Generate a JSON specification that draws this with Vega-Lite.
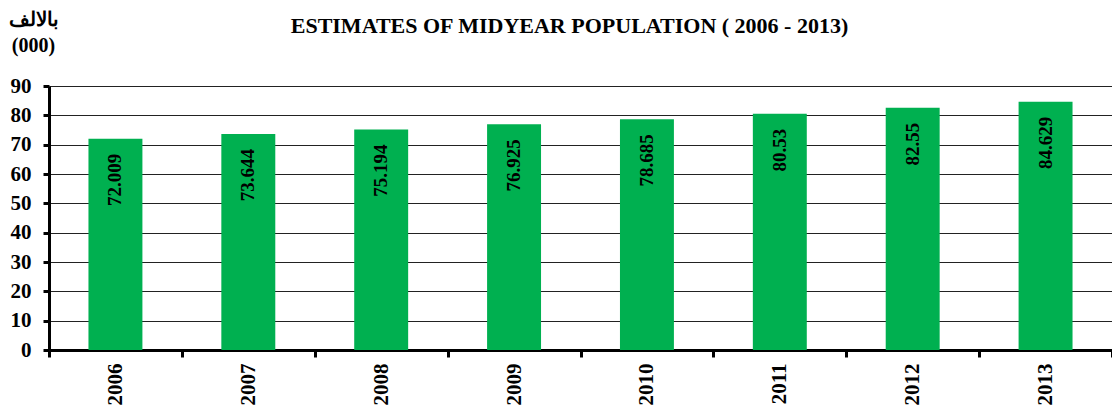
{
  "$schema": "https://vega.github.io/schema/vega-lite/v6.json",
  "width": 1063,
  "height": 264,
  "autosize": {"type": "none"},
  "padding": {"left": 49, "top": 86, "right": 0, "bottom": 64},
  "background": "white",
  "config": {
    "font": "Liberation Serif",
    "view": {"stroke": null}
  },
  "data": {
    "values": [
      {"year": "2006", "pop": 72.009},
      {"year": "2007", "pop": 73.644},
      {"year": "2008", "pop": 75.194},
      {"year": "2009", "pop": 76.925},
      {"year": "2010", "pop": 78.685},
      {"year": "2011", "pop": 80.53},
      {"year": "2012", "pop": 82.55},
      {"year": "2013", "pop": 84.629}
    ]
  },
  "encoding": {
    "x": {
      "field": "year",
      "type": "nominal",
      "sort": null,
      "scale": {"paddingInner": 0, "paddingOuter": 0},
      "axis": {
        "title": "ESTIMATES OF MIDYEAR POPULATION ( 2006 - 2013)",
        "titleFont": "Liberation Serif",
        "titleFontSize": 22,
        "titleFontWeight": "bold",
        "titleColor": "black",
        "titleX": 520,
        "titleY": -318,
        "titleAlign": "center",
        "titleBaseline": "alphabetic",
        "titleAngle": 0,
        "labelAngle": -90,
        "labelFontSize": 21,
        "labelFontWeight": "bold",
        "labelColor": "black",
        "labelPadding": 6,
        "tickBand": "extent",
        "tickColor": "black",
        "tickWidth": 3,
        "tickSize": 7,
        "domainColor": "black",
        "domainWidth": 3,
        "grid": false
      }
    },
    "y": {
      "field": "pop",
      "type": "quantitative",
      "scale": {"domain": [0, 90], "nice": false},
      "axis": {
        "values": [0, 10, 20, 30, 40, 50, 60, 70, 80, 90],
        "title": ["بالالف", "(000)"],
        "titleFontSize": 20,
        "titleFontWeight": "bold",
        "titleColor": "black",
        "titleAngle": 0,
        "titleX": -16,
        "titleY": -77,
        "titleAlign": "center",
        "titleBaseline": "top",
        "titleLineHeight": 26,
        "labelFontSize": 21,
        "labelFontWeight": "bold",
        "labelColor": "black",
        "labelPadding": 12,
        "tickColor": "black",
        "tickWidth": 3,
        "tickSize": 6,
        "domainColor": "black",
        "domainWidth": 3,
        "grid": true,
        "gridColor": "#222222",
        "gridWidth": 1,
        "gridOpacity": 1
      }
    }
  },
  "layer": [
    {
      "mark": {"type": "bar", "color": "#00B050", "width": {"band": 0.406}}
    },
    {
      "mark": {
        "type": "text",
        "angle": 270,
        "align": "right",
        "baseline": "middle",
        "dx": -15,
        "fontSize": 19,
        "fontWeight": "bold",
        "color": "black"
      },
      "encoding": {
        "text": {"field": "pop", "type": "quantitative"}
      }
    }
  ]
}
